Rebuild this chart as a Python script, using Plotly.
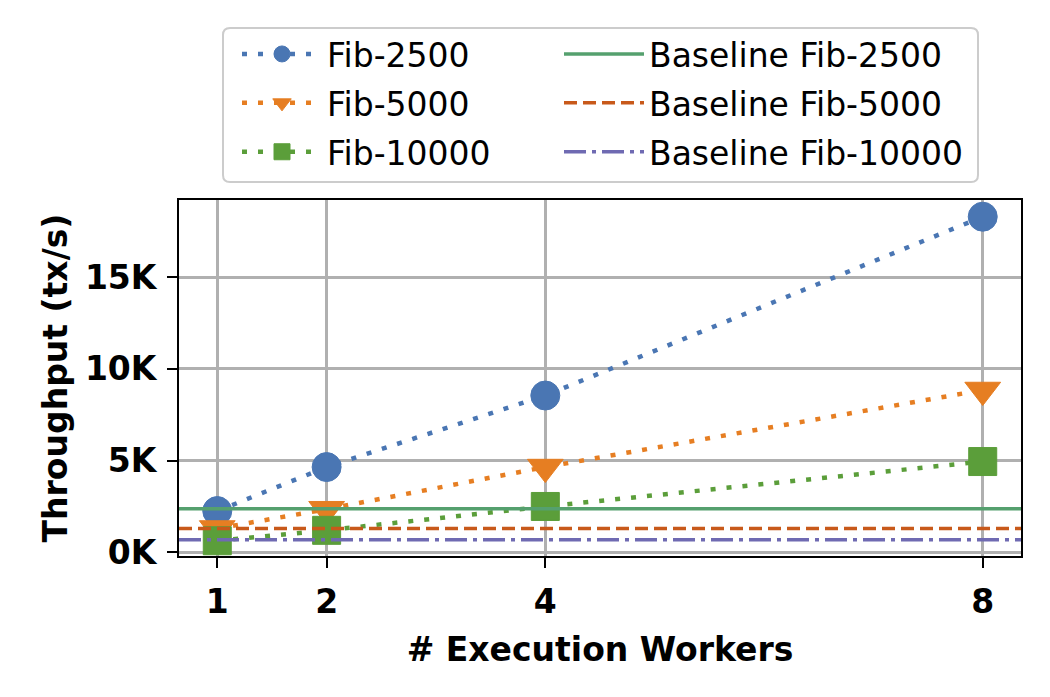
import plotly.graph_objects as go

# ---------------- data ----------------
workers = [1, 2, 4, 8]
fib_2500 = [2250, 4650, 8550, 18300]
fib_5000 = [1300, 2350, 4650, 8850]
fib_10000 = [630, 1200, 2500, 4950]
series_names = ["Fib-2500", "Fib-5000", "Fib-10000"]
baseline_names = ["Baseline Fib-2500", "Baseline Fib-5000", "Baseline Fib-10000"]
baseline_values = [2380, 1300, 690]
x_tickvals = [1, 2, 4, 8]
y_tickvals = [0, 5000, 10000, 15000]
y_ticktext = ["0K", "5K", "10K", "15K"]
x_range = [0.65, 8.35]
y_range = [-200, 19210]

# ---------------- style ----------------
W, H = 1050, 697
L, R, T, B = 179, 29, 200, 141
PW, PH = W - L - R, H - T - B
FONT = "DejaVu Sans"
FS = 33

series_styles = [
    dict(color="#4a76b3", symbol="circle", size=29),
    dict(color="#e67e22", symbol="triangle-down", size=31),
    dict(color="#5b9e3a", symbol="square", size=28),
]
baseline_styles = [
    dict(color="#55a06e", dash="solid"),
    dict(color="#c8591a", dash="13px,6px"),
    dict(color="#6f6ab2", dash="22px,6px,4px,6px"),
]

fig = go.Figure()

for name, ys, st in zip(series_names, [fib_2500, fib_5000, fib_10000], series_styles):
    fig.add_trace(go.Scatter(
        x=workers, y=ys, name=name, mode="lines+markers",
        line=dict(color=st["color"], width=4.5, dash="5px,11px"),
        marker=dict(symbol=st["symbol"], size=st["size"], color=st["color"],
                    line=dict(width=1, color=st["color"])),
        legend="legend", legendgroup=name,
    ))

for name, val, st in zip(baseline_names, baseline_values, baseline_styles):
    fig.add_trace(go.Scatter(
        x=x_range, y=[val, val], name=name, mode="lines",
        line=dict(color=st["color"], width=3.5, dash=st["dash"]),
        legend="legend2", legendgroup=name,
    ))


def px_x(p):
    return (p - L) / PW


def px_y(p):
    return (H - B - p) / PH


# legend frame (rounded rectangle) in paper coordinates
x0, x1, y0, y1 = px_x(223), px_x(978), px_y(182), px_y(28)
rx, ry = 7 / PW, 7 / PH
path = (f"M {x0+rx},{y1} L {x1-rx},{y1} Q {x1},{y1} {x1},{y1-ry} "
        f"L {x1},{y0+ry} Q {x1},{y0} {x1-rx},{y0} L {x0+rx},{y0} "
        f"Q {x0},{y0} {x0},{y0+ry} L {x0},{y1-ry} Q {x0},{y1} {x0+rx},{y1} Z")
fig.add_shape(type="path", path=path, xref="paper", yref="paper",
              line=dict(color="#cccccc", width=2), fillcolor="white", layer="below")

legend_common = dict(
    font=dict(family=FONT, size=FS, color="black"),
    bgcolor="rgba(0,0,0,0)", borderwidth=0,
    xanchor="left", yanchor="top", tracegroupgap=3,
    itemwidth=80, orientation="v",
)

axis_common = dict(
    showline=True, linecolor="black", linewidth=2, mirror=True,
    ticks="outside", ticklen=10, tickwidth=2, tickcolor="black",
    showgrid=True, gridcolor="#b0b0b0", gridwidth=2.5, zeroline=False,
    tickfont=dict(family=FONT, size=FS, color="black", weight="bold"),
)

fig.update_layout(
    width=W, height=H,
    margin=dict(l=L, r=R, t=T, b=B),
    paper_bgcolor="white", plot_bgcolor="white",
    font=dict(family=FONT, size=FS, color="black"),
    showlegend=True,
    legend=dict(x=px_x(237), y=px_y(26), **legend_common),
    legend2=dict(x=px_x(559), y=px_y(26), **legend_common),
    xaxis=dict(range=x_range, tickmode="array", tickvals=x_tickvals,
               ticklabelstandoff=5,
               title=dict(text="# Execution Workers", standoff=18,
                          font=dict(family=FONT, size=FS, color="black", weight="bold")),
               **axis_common),
    yaxis=dict(range=y_range, tickmode="array", tickvals=y_tickvals, ticktext=y_ticktext,
               ticklabelstandoff=4,
               title=dict(text="Throughput (tx/s)", standoff=7,
                          font=dict(family=FONT, size=FS, color="black", weight="bold")),
               **axis_common),
)

fig.write_html("out.html")
